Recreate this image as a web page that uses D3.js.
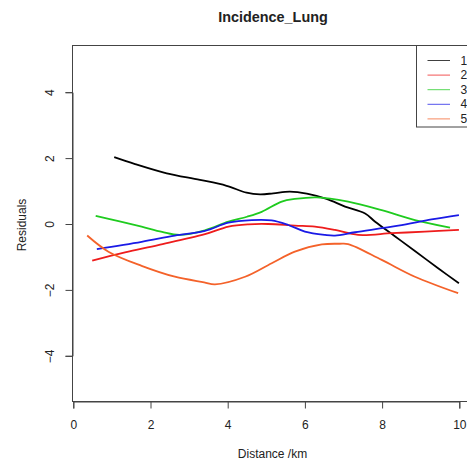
<!DOCTYPE html>
<html>
<head>
<meta charset="utf-8">
<script src="https://cdn.jsdelivr.net/npm/d3@7"></script>
<style>
  html, body { margin: 0; padding: 0; background: #fff; }
  svg { display: block; }
  text { font-family: "Liberation Sans", Arial, Helvetica, sans-serif; fill: #222; }
</style>
</head>
<body>
<svg id="chart" width="467" height="465"></svg>
<script>
// Smoothed residuals against distance, one curve per group
const seriesNames = ["1", "2", "3", "4", "5"];
const seriesColors = ["#000000", "#ee1c1c", "#1fcb1f", "#1a1ae6", "#f4622a"];

const dist1 = [1.06, 1.6, 2.42, 3.28, 3.97, 4.49, 4.84, 5.18, 5.61, 6.05, 6.56, 7.04, 7.56, 7.82, 8.33, 8.85, 9.46, 9.99];
const resid1 = [2.03, 1.82, 1.54, 1.34, 1.16, 0.95, 0.90, 0.93, 0.98, 0.92, 0.76, 0.53, 0.32, 0.07, -0.37, -0.82, -1.35, -1.80];

const dist2 = [0.49, 1.34, 2.20, 3.41, 4.02, 4.53, 5.05, 5.74, 6.26, 6.78, 7.38, 8.25, 9.11, 9.99];
const resid2 = [-1.11, -0.86, -0.64, -0.31, -0.08, -0.01, 0.0, -0.05, -0.08, -0.18, -0.33, -0.28, -0.23, -0.18];

const dist3 = [0.58, 1.2, 1.77, 2.3, 2.75, 3.41, 4.02, 4.5, 4.88, 5.40, 5.74, 6.31, 7.12, 7.99, 8.85, 9.76];
const resid3 = [0.25, 0.08, -0.08, -0.24, -0.33, -0.19, 0.07, 0.22, 0.37, 0.68, 0.76, 0.81, 0.68, 0.42, 0.12, -0.11];

const dist4 = [0.61, 1.77, 2.63, 3.41, 4.02, 4.62, 5.14, 5.57, 6.0, 6.52, 6.78, 7.30, 8.42, 9.28, 9.99];
const resid4 = [-0.76, -0.54, -0.35, -0.21, 0.04, 0.12, 0.11, -0.03, -0.23, -0.33, -0.35, -0.25, -0.05, 0.14, 0.27];

const dist5 = [0.36, 0.91, 1.77, 2.63, 3.39, 3.67, 4.45, 5.14, 5.74, 6.44, 6.9, 7.12, 7.99, 8.85, 9.97];
const resid5 = [-0.35, -0.84, -1.27, -1.60, -1.77, -1.83, -1.60, -1.19, -0.84, -0.62, -0.60, -0.61, -1.09, -1.60, -2.10];

const xTicks = [0, 2, 4, 6, 8, 10];
const yTicks = [-4, -2, 0, 2, 4];

const distances = [dist1, dist2, dist3, dist4, dist5];
const residuals = [resid1, resid2, resid3, resid4, resid5];

const svg = d3.select("#chart");
const font = '"Liberation Sans", Arial, sans-serif';

// plot region
const box = { left: 72.5, right: 473.5, top: 45.5, bottom: 401.5 };

const x = d3.scaleLinear().domain([0, 10]).range([73.3, 459.3]);
const y = d3.scaleLinear().domain([-4, 4]).range([355.8, 92.2]);

// frame around the plotting region
svg.append("rect")
  .attr("x", box.left).attr("y", box.top)
  .attr("width", box.right - box.left).attr("height", box.bottom - box.top)
  .attr("fill", "none").attr("stroke", "#444").attr("stroke-width", 1);

// x axis
const xAxis = svg.append("g")
  .attr("transform", `translate(0,${box.bottom})`)
  .call(d3.axisBottom(x).tickValues(xTicks).tickFormat(d3.format("d")).tickSize(7));
xAxis.select(".domain").attr("stroke", "#444");
xAxis.selectAll(".tick line").attr("stroke", "#444");
xAxis.selectAll(".tick text")
  .attr("y", 23.5).attr("dy", null)
  .attr("dominant-baseline", "central")
  .attr("font-size", 12).style("font-family", font).attr("fill", "#222");

// y axis, labels parallel to the axis
const yAxis = svg.append("g")
  .attr("transform", `translate(${box.left},0)`)
  .call(d3.axisLeft(y).tickValues(yTicks).tickFormat(d3.format("d")).tickSize(7));
yAxis.select(".domain").attr("stroke", "#444");
yAxis.selectAll(".tick line").attr("stroke", "#444");
yAxis.selectAll(".tick text")
  .attr("x", null).attr("dy", null)
  .attr("transform", "translate(-23,0) rotate(-90)")
  .attr("text-anchor", "middle")
  .attr("dominant-baseline", "central")
  .attr("font-size", 12)
  .style("font-family", font)
  .attr("fill", "#222");

// curves
const line = d3.line()
  .x(d => x(d[0]))
  .y(d => y(d[1]))
  .curve(d3.curveCatmullRom.alpha(0.5));

seriesNames.forEach((name, i) => {
  const pts = distances[i].map((d, j) => [d, residuals[i][j]]);
  svg.append("path")
    .datum(pts)
    .attr("d", line)
    .attr("fill", "none")
    .attr("stroke", seriesColors[i])
    .attr("stroke-width", 1.8)
    .attr("stroke-linejoin", "round");
});

// legend
const legend = svg.append("g");
legend.append("rect")
  .attr("x", 416.5).attr("y", 45.5)
  .attr("width", 70).attr("height", 81.5)
  .attr("fill", "#fff").attr("stroke", "#444").attr("stroke-width", 1);
seriesNames.forEach((name, i) => {
  const ly = 60.5 + i * 14.6;
  legend.append("line")
    .attr("x1", 427.5).attr("x2", 450)
    .attr("y1", ly).attr("y2", ly)
    .attr("stroke", seriesColors[i]).attr("stroke-width", 1)
    .attr("stroke-opacity", 0.75);
  legend.append("text")
    .attr("x", 460.5).attr("y", ly)
    .attr("dominant-baseline", "central")
    .attr("font-size", 12)
    .text(name);
});

// titles
svg.append("text")
  .attr("x", 273).attr("y", 22)
  .attr("text-anchor", "middle")
  .attr("font-size", 14.4).attr("font-weight", "bold")
  .text("Incidence_Lung");

svg.append("text")
  .attr("x", 272.5).attr("y", 458)
  .attr("text-anchor", "middle")
  .attr("font-size", 12)
  .text("Distance /km");

svg.append("text")
  .attr("transform", "translate(26,225) rotate(-90)")
  .attr("text-anchor", "middle")
  .attr("font-size", 12)
  .text("Residuals");
</script>
</body>
</html>
